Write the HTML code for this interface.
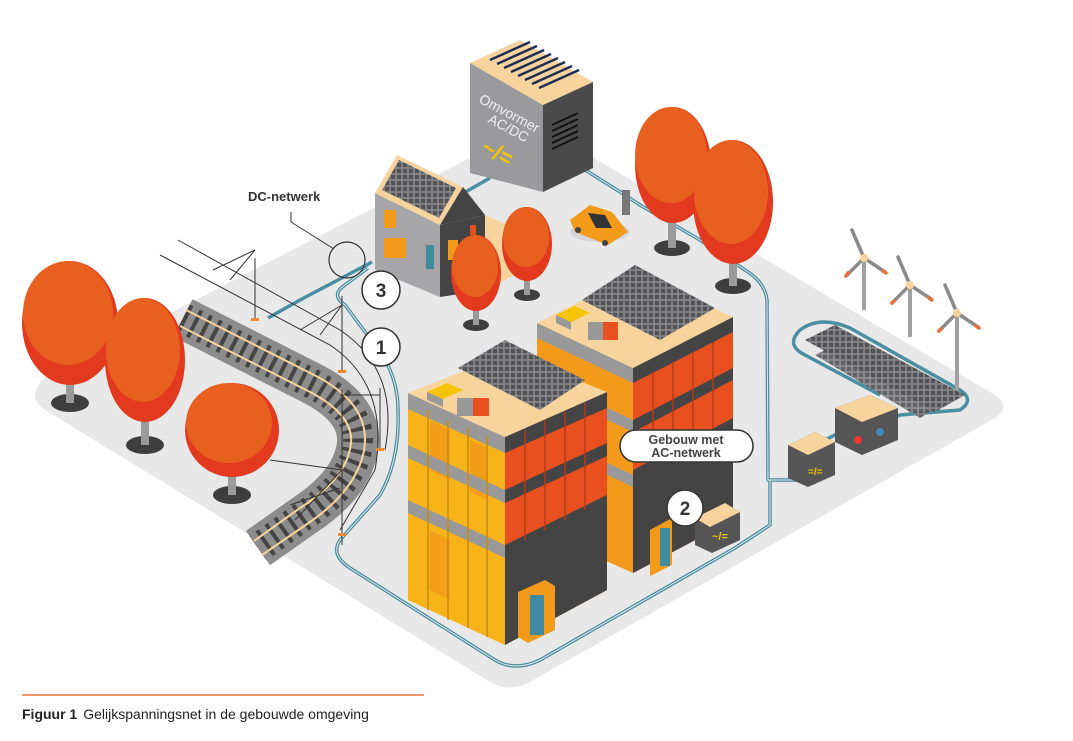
<!DOCTYPE html>
<html><head><meta charset="utf-8"><style>
html,body{margin:0;padding:0;background:#fff;}
svg{display:block;}
text{font-family:"Liberation Sans",Arial,sans-serif;}
</style></head><body>
<svg width="1073" height="741" viewBox="0 0 1073 741" xmlns="http://www.w3.org/2000/svg">
<defs>
<pattern id="pv" width="6" height="6" patternUnits="userSpaceOnUse"><rect width="6" height="6" fill="#8a8a8c"/><rect x="0.8" y="0.8" width="4.4" height="4.4" fill="#545458"/></pattern>
</defs>
<!-- ground -->
<path d="M45,378 L520,132 Q535,125 550,132 L995,395 Q1012,406 995,418 L530,682 Q510,693 490,682 L45,410 Q25,396 45,378Z" fill="#e8e8e8"/>

<!-- cables (teal) -->
<g fill="none" stroke="#4a8ea2" stroke-width="3.5" stroke-linejoin="round">
<path d="M490,178 L455,198"/>
<path d="M582,168 L625,195 L640,205 L700,240 L745,270 Q765,282 767,300 L768,480 L798,480"/>
<path d="M372,262 L300,300 L268,318"/>
<path d="M368,268 L345,285 Q330,295 345,305 L380,352 Q398,378 398,410 Q400,460 380,495 L340,540 Q330,555 350,568 L495,660 Q515,672 540,660 L735,548 L770,525 L770,480"/>
<path d="M825,440 L845,430"/>
<path d="M870,430 L900,415 L960,410 Q975,400 960,390 L850,328 Q820,315 800,330 Q785,345 805,355 L880,395"/>
</g>
<g fill="none" stroke="#e8e8e8" stroke-width="1">
<path d="M368,268 L345,285 Q330,295 345,305 L380,352 Q398,378 398,410 Q400,460 380,495 L340,540 Q330,555 350,568 L495,660 Q515,672 540,660 L735,548 L770,525 L770,480"/>
<path d="M582,168 L625,195 L640,205 L700,240 L745,270 Q765,282 767,300 L768,480 L798,480"/>
</g>

<!-- railway -->
<path d="M183,318 L315,385 Q365,412 357,450 Q350,485 305,515 L258,548" fill="none" stroke="#8c8c8c" stroke-width="42"/>
<path d="M183,318 L315,385 Q365,412 357,450 Q350,485 305,515 L258,548" fill="none" stroke="#444" stroke-width="30" stroke-dasharray="4 7"/>
<path d="M186,310 L318,377 Q372,406 364,451 Q356,490 310,522 L262,555" fill="none" stroke="#f4d49a" stroke-width="2"/>
<path d="M180,326 L312,393 Q358,418 350,449 Q344,480 300,508 L254,541" fill="none" stroke="#f4d49a" stroke-width="2"/>
<!-- overhead wires -->
<g stroke="#333" stroke-width="1" fill="none">
<path d="M178,240 L340,330 Q400,370 385,450"/>
<path d="M160,255 L330,345 Q390,385 375,470 L340,530"/>
<path d="M255,258 L255,318"/><path d="M213,270 L255,250 L230,280"/>
<path d="M342,296 L342,370"/><path d="M300,330 L342,305 L320,335"/>
<path d="M380,388 L380,448"/><path d="M340,395 L380,395"/>
<path d="M342,390 L342,545"/><path d="M270,460 L342,470 L295,520"/>
<path d="M290,505 L340,488"/>
</g>
<g fill="#f08a30"><rect x="251" y="318" width="8" height="3"/><rect x="338" y="370" width="8" height="3"/><rect x="376" y="448" width="8" height="3"/><rect x="338" y="533" width="8" height="3"/></g>

<!-- trees left -->
<g>
<ellipse cx="70" cy="403" rx="19" ry="9" fill="#3e3e3e"/><rect x="66" y="370" width="8" height="33" fill="#9a9a9a"/>
<ellipse cx="70" cy="323" rx="48" ry="62" fill="#e3391f"/><ellipse cx="68" cy="313" rx="45" ry="52" fill="#e8601f"/>
<ellipse cx="145" cy="445" rx="19" ry="9" fill="#3e3e3e"/><rect x="141" y="410" width="8" height="35" fill="#9a9a9a"/>
<ellipse cx="145" cy="360" rx="40" ry="62" fill="#e3391f"/><ellipse cx="143" cy="350" rx="37" ry="52" fill="#e8601f"/>
<ellipse cx="232" cy="495" rx="19" ry="9" fill="#3e3e3e"/><rect x="228" y="465" width="8" height="30" fill="#9a9a9a"/>
<circle cx="232" cy="430" r="47" fill="#e3391f"/><ellipse cx="229" cy="423" rx="43" ry="40" fill="#e8601f"/>
</g>

<!-- inverter box -->
<polygon points="470,63 520,40 593,82 543,105" fill="#f7d49e"/>
<g stroke="#1f2d55" stroke-width="2.5"><line x1="490" y1="60" x2="530" y2="42"/><line x1="497" y1="64" x2="537" y2="46"/><line x1="504" y1="68" x2="544" y2="50"/><line x1="511" y1="72" x2="551" y2="54"/><line x1="518" y1="76" x2="558" y2="58"/><line x1="525" y1="80" x2="565" y2="62"/><line x1="532" y1="84" x2="572" y2="66"/><line x1="539" y1="88" x2="579" y2="70"/></g>
<polygon points="470,63 543,105 543,192 470,173" fill="#9a9a9c"/>
<polygon points="543,105 593,82 593,168 543,192" fill="#4a4a4a"/>
<g stroke="#111" stroke-width="2"><line x1="552" y1="125" x2="578" y2="113"/><line x1="552" y1="131" x2="578" y2="119"/><line x1="552" y1="137" x2="578" y2="125"/><line x1="552" y1="143" x2="578" y2="131"/><line x1="552" y1="149" x2="578" y2="137"/></g>
<text transform="translate(478,102) rotate(28)" font-size="14" fill="#eee">Omvormer</text>
<text transform="translate(487,122) rotate(28)" font-size="14" fill="#eee">AC/DC</text>
<text transform="translate(480,152) rotate(28)" font-size="22" font-weight="bold" fill="#f5c400">~/=</text>

<!-- house -->
<polygon points="440,225 485,215 485,290 440,297" fill="#444"/>
<polygon points="485,215 515,228 515,275 485,290" fill="#f7d49e"/>
<polygon points="375,193 440,225 440,297 375,270" fill="#a6a6a8"/>
<polygon points="375,193 397,155 463,187 440,225" fill="#f7d49e"/>
<polygon points="382,190 399,160 456,188 439,218" fill="url(#pv)"/>
<polygon points="440,225 463,187 485,215" fill="#444"/>
<rect x="384" y="210" width="12" height="18" fill="#f39a1a"/><rect x="384" y="238" width="22" height="20" fill="#f39a1a"/><rect x="426" y="245" width="8" height="24" fill="#3f8a9e"/>
<rect x="448" y="240" width="10" height="20" fill="#f39a1a"/><rect x="470" y="225" width="6" height="10" fill="#e35020"/>

<!-- car + charger -->
<ellipse cx="600" cy="232" rx="30" ry="10" fill="#d5d5dd"/>
<path d="M570,220 L590,205 L612,212 L628,232 L608,245 L575,232Z" fill="#f39a1a"/>
<path d="M588,213 L605,215 L612,228 L596,228Z" fill="#333"/>
<circle cx="578" cy="230" r="3" fill="#444"/><circle cx="605" cy="243" r="3" fill="#444"/>
<rect x="622" y="190" width="8" height="25" fill="#777"/>

<!-- back trees -->
<ellipse cx="672" cy="248" rx="18" ry="8" fill="#3e3e3e"/><rect x="668" y="200" width="8" height="48" fill="#9a9a9a"/>
<ellipse cx="673" cy="165" rx="38" ry="58" fill="#e3391f"/><ellipse cx="671" cy="155" rx="36" ry="48" fill="#e8601f"/>
<ellipse cx="733" cy="286" rx="18" ry="8" fill="#3e3e3e"/><rect x="729" y="250" width="8" height="36" fill="#9a9a9a"/>
<ellipse cx="733" cy="202" rx="40" ry="62" fill="#e3391f"/><ellipse cx="731" cy="192" rx="37" ry="52" fill="#e8601f"/>
<ellipse cx="476" cy="325" rx="13" ry="6" fill="#3e3e3e"/><rect x="473" y="300" width="6" height="25" fill="#9a9a9a"/>
<ellipse cx="476" cy="273" rx="25" ry="38" fill="#e3391f"/><ellipse cx="475" cy="266" rx="23" ry="31" fill="#e8601f"/>
<ellipse cx="527" cy="295" rx="13" ry="6" fill="#3e3e3e"/><rect x="524" y="270" width="6" height="25" fill="#9a9a9a"/>
<ellipse cx="527" cy="244" rx="25" ry="37" fill="#e3391f"/><ellipse cx="526" cy="237" rx="23" ry="30" fill="#e8601f"/>

<!-- back building -->
<polygon points="537,323 633,368 633,573 537,530" fill="#f39a1a"/>
<polygon points="633,368 733,317 733,520 633,573" fill="#e8501f"/>
<polygon points="633,470 733,418 733,520 633,573" fill="#444"/>
<g fill="#444"><polygon points="633,368 733,317 733,332 633,383"/><polygon points="633,420 733,368 733,380 633,432"/></g>
<g fill="#999"><polygon points="537,323 633,368 633,383 537,338"/><polygon points="537,375 633,420 633,432 537,387"/><polygon points="537,430 633,475 633,487 537,442"/></g>
<g stroke="#b83a15" stroke-width="1.5"><line x1="653" y1="372" x2="653" y2="462"/><line x1="673" y1="362" x2="673" y2="452"/><line x1="693" y1="352" x2="693" y2="442"/><line x1="713" y1="342" x2="713" y2="432"/></g>
<polygon points="537,323 637,272 733,317 633,368" fill="#f7d49e"/>
<polygon points="582,300 635,265 715,308 660,340" fill="url(#pv)"/>
<polygon points="556,315 575,306 590,313 571,322" fill="#f5c400"/><polygon points="556,315 571,322 571,330 556,323" fill="#999"/>
<rect x="588" y="322" width="30" height="18" fill="#e8501f"/><rect x="588" y="322" width="15" height="18" fill="#999"/>
<!-- door & inverter 2 -->
<polygon points="650,530 672,518 672,565 650,576" fill="#f39a1a"/><rect x="660" y="528" width="10" height="38" fill="#3f8a9e"/>
<polygon points="695,518 725,503 740,512 740,540 712,553 695,545" fill="#555"/><polygon points="695,518 725,503 740,512 710,527" fill="#f7d49e"/>
<text x="712" y="540" font-size="11" font-weight="bold" fill="#f5c400">~/=</text>

<!-- front building -->
<polygon points="408,393 505,437 505,645 408,600" fill="#f7b317"/>
<g fill="#f39a1a" opacity="0.8"><polygon points="430,420 450,430 450,480 430,470"/><polygon points="470,440 488,448 488,500 470,492"/><polygon points="430,530 450,540 450,600 430,590"/></g>
<polygon points="505,437 607,392 607,590 505,645" fill="#e8501f"/>
<polygon points="505,545 607,495 607,590 505,645" fill="#444"/>
<g fill="#444"><polygon points="505,437 607,392 607,408 505,453"/><polygon points="505,490 607,443 607,456 505,503"/></g>
<g fill="#999"><polygon points="408,393 505,437 505,453 408,409"/><polygon points="408,445 505,490 505,503 408,458"/><polygon points="408,500 505,545 505,558 408,513"/></g>
<g stroke="#c98a10" stroke-width="1.5"><line x1="428" y1="410" x2="428" y2="610"/><line x1="448" y1="420" x2="448" y2="620"/><line x1="468" y1="428" x2="468" y2="628"/><line x1="487" y1="437" x2="487" y2="637"/></g>
<g stroke="#b83a15" stroke-width="1.5"><line x1="525" y1="430" x2="525" y2="540"/><line x1="545" y1="420" x2="545" y2="530"/><line x1="565" y1="412" x2="565" y2="520"/><line x1="585" y1="403" x2="585" y2="510"/></g>
<polygon points="408,393 510,353 607,392 505,437" fill="#f7d49e"/>
<polygon points="458,368 505,340 585,380 540,410" fill="url(#pv)"/>
<polygon points="427,392 447,383 463,390 443,399" fill="#f5c400"/><polygon points="427,392 443,399 443,407 427,400" fill="#999"/>
<rect x="457" y="398" width="32" height="18" fill="#e8501f"/><rect x="457" y="398" width="16" height="18" fill="#999"/>
<polygon points="518,592 545,580 555,586 555,630 528,643 518,637" fill="#f39a1a"/><rect x="530" y="595" width="14" height="40" fill="#3f8a9e"/>

<!-- solar field right -->
<polygon points="805,340 835,325 965,395 935,412" fill="url(#pv)"/>
<polygon points="815,355 845,340 950,400 920,418" fill="url(#pv)" opacity="0.9"/>
<!-- battery & converter -->
<polygon points="835,408 870,395 898,408 898,440 862,455 835,442" fill="#555"/><polygon points="835,408 870,395 898,408 862,422" fill="#f7d49e"/>
<circle cx="858" cy="440" r="4" fill="#e33"/><circle cx="880" cy="432" r="4" fill="#3f8ac0"/>
<polygon points="788,445 815,432 835,442 835,475 808,487 788,478" fill="#555"/><polygon points="788,445 815,432 835,442 808,455" fill="#f7d49e"/>
<text x="808" y="475" font-size="10" font-weight="bold" fill="#f5c400">=/=</text>
<!-- wind turbines -->
<g fill="#a0a0a0"><rect x="862" y="258" width="4" height="52"/><rect x="908" y="285" width="4" height="52"/><rect x="955" y="313" width="4" height="77"/></g>
<g stroke="#8a8a8a" stroke-width="3.5" stroke-linecap="round"><path d="M864,258 L852,230 M864,258 L885,272 M864,258 L846,276"/><path d="M910,285 L898,257 M910,285 L931,299 M910,285 L892,303"/><path d="M957,313 L945,285 M957,313 L978,327 M957,313 L939,331"/></g>
<g stroke="#e8703a" stroke-width="3.5" stroke-linecap="round"><path d="M883,271 L886,273 M848,273 L846,276"/><path d="M929,298 L932,300 M894,301 L892,303"/><path d="M976,326 L979,328 M941,329 L939,331"/></g>
<g fill="#f7d49e"><circle cx="864" cy="258" r="4"/><circle cx="910" cy="285" r="4"/><circle cx="957" cy="313" r="4"/></g>

<!-- labels -->
<text x="248" y="201" font-size="13" font-weight="bold" fill="#333">DC-netwerk</text>
<polyline points="291,212 291,222 334,249" fill="none" stroke="#333" stroke-width="1"/>
<circle cx="347" cy="260" r="18" fill="none" stroke="#333" stroke-width="1.2"/>
<g font-size="19" font-weight="bold" fill="#333" text-anchor="middle">
<circle cx="381" cy="290" r="19" fill="#fff" stroke="#333" stroke-width="1.5"/><text x="381" y="297">3</text>
<circle cx="381" cy="347" r="19" fill="#fff" stroke="#333" stroke-width="1.5"/><text x="381" y="354">1</text>
<circle cx="685" cy="508" r="18" fill="#fff" stroke="#333" stroke-width="1.5"/><text x="685" y="515">2</text>
</g>
<rect x="620" y="430" width="133" height="32" rx="16" fill="#fff" stroke="#333" stroke-width="1.5"/>
<text x="686" y="444" font-size="12.5" font-weight="bold" fill="#444" text-anchor="middle">Gebouw met</text>
<text x="686" y="457" font-size="12.5" font-weight="bold" fill="#444" text-anchor="middle">AC-netwerk</text>

<!-- caption -->
<line x1="22" y1="695" x2="424" y2="695" stroke="#e8703a" stroke-width="1.5"/>
<text x="22" y="719" font-size="14" fill="#222"><tspan font-weight="bold">Figuur 1</tspan><tspan dx="6">Gelijkspanningsnet in de gebouwde omgeving</tspan></text>
</svg>
</body></html>
